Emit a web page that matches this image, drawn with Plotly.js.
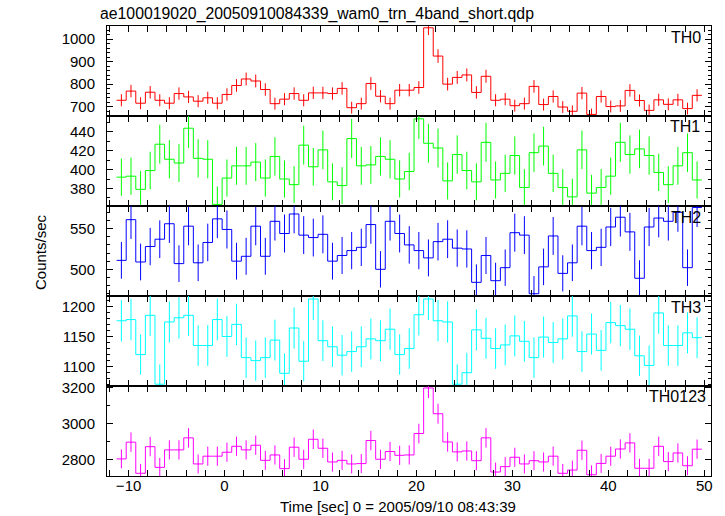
<!DOCTYPE html>
<html>
<head>
<meta charset="utf-8">
<script src="https://cdn.plot.ly/plotly-3.0.1.min.js"></script>
<style>html,body{margin:0;padding:0;background:#fff;}#chart{width:725px;height:516px;}</style>
</head>
<body>
<div id="chart"></div>
<script>
// Bin centres (1 s bins), time in sec relative to 2005/09/10 08:43:39
const timeCenters = [-10.75,-9.75,-8.75,-7.75,-6.75,-5.75,-4.75,-3.75,-2.75,-1.75,
  -0.75,0.25,1.25,2.25,3.25,4.25,5.25,6.25,7.25,8.25,
  9.25,10.25,11.25,12.25,13.25,14.25,15.25,16.25,17.25,18.25,
  19.25,20.25,21.25,22.25,23.25,24.25,25.25,26.25,27.25,28.25,
  29.25,30.25,31.25,32.25,33.25,34.25,35.25,36.25,37.25,38.25,
  39.25,40.25,41.25,42.25,43.25,44.25,45.25,46.25,47.25,48.25,49.25];
const binWidth = 1;

const th0 = [728,769,715,764,728,715,758,743,724,739,
  715,754,794,823,814,776,713,733,758,728,
  761,761,758,781,695,713,803,746,713,773,
  773,785,1051,925,800,830,841,763,835,728,
  733,704,713,790,709,745,698,679,760,665,
  745,700,703,772,727,683,730,710,730,691,750];
const th1 = [392,393,379,399,427,411,407,444,412,411,
  363,391,404,404,408,391,414,390,384,426,
  403,421,387,383,433,404,405,414,411,390,
  398,454,428,423,388,416,399,387,429,389,
  396,415,381,418,425,396,381,371,421,375,
  381,393,429,416,422,415,397,384,404,418,389];
const th2 = [511,561,509,528,537,556,507,553,508,533,
  562,549,510,516,553,516,559,544,568,542,
  539,543,510,517,523,527,555,500,559,544,
  530,523,514,534,537,526,525,484,517,486,
  502,545,542,470,503,541,495,508,553,523,
  527,552,564,546,489,552,563,559,570,502,576];
const th3 = [1176,1178,1120,1185,1071,1174,1181,1185,1135,1135,
  1178,1150,1170,1115,1110,1115,1144,1089,1164,1109,
  1212,1143,1133,1119,1125,1133,1146,1143,1162,1120,
  1130,1186,1212,1176,1174,1071,1090,1161,1147,1130,
  1136,1151,1142,1115,1149,1140,1146,1184,1125,1154,
  1127,1173,1168,1162,1118,1102,1189,1135,1135,1156,1148];
const th0123 = [2806,2899,2726,2874,2759,2856,2856,2923,2778,2821,
  2821,2843,2876,2856,2882,2798,2828,2752,2871,2804,
  2915,2865,2789,2798,2778,2780,2908,2804,2847,2826,
  2828,2947,3200,3057,2900,2845,2850,2796,2923,2733,
  2763,2815,2778,2796,2789,2821,2726,2744,2854,2718,
  2781,2821,2861,2895,2754,2754,2876,2791,2839,2768,2860];

const panelNames = ['TH0','TH1','TH2','TH3','TH0123'];
const panelData = [th0, th1, th2, th3, th0123];
const panelColors = ['#ff0000','#00ff00','#0000ff','#00ffff','#ff00ff'];
const yRanges = [[658,1059],[361.3,457],[467.2,577.8],[1068,1217],[2711,3211]];
const yDticks = [100,20,50,50,200];
const yMinor = [20,10,10,10,100];
const xTickVals = [-12,-10,-8,-6,-4,-2,0,2,4,6,8,10,12,14,16,18,20,22,24,26,28,30,32,34,36,38,40,42,44,46,48,50];
const xLabelVals = [-10,0,10,20,30,40,50];
const labelPos = [[703,37.5],[702,126.5],[703,217.5],[703,307.5],[708,396.7]];

const FONT = 'Liberation Sans, Arial, Helvetica, sans-serif';
const L = 107, R = 711, T = 26, B = 476;
const px2x = p => (p - L) / (R - L);
const px2y = p => (B - p) / (B - T);

const traces = [];
const layout = {
  width: 725, height: 516,
  margin: {l: L, r: 725 - R, t: T, b: 516 - B},
  paper_bgcolor: '#fff', plot_bgcolor: '#fff',
  showlegend: false,
  font: {family: FONT, size: 15, color: '#000'},
  annotations: []
};

panelData.forEach((vals, i) => {
  const n = i + 1;
  const xa = n === 1 ? 'x' : 'x' + n;
  const ya = n === 1 ? 'y' : 'y' + n;
  // step outline built from bin edges
  const edges = timeCenters.map(c => c - binWidth / 2);
  edges.push(timeCenters[timeCenters.length - 1] + binWidth / 2);
  const stepY = vals.slice();
  stepY.push(vals[vals.length - 1]);
  traces.push({
    x: edges, y: stepY, xaxis: xa, yaxis: ya,
    type: 'scatter', mode: 'lines',
    line: {shape: 'hv', color: panelColors[i], width: 1},
    hoverinfo: 'skip'
  });
  // Poisson error bars (sqrt of counts in 1 s bins)
  traces.push({
    x: timeCenters, y: vals, xaxis: xa, yaxis: ya,
    type: 'scatter', mode: 'markers',
    marker: {size: 1, color: panelColors[i]},
    error_y: {type: 'data', array: vals.map(v => Math.sqrt(v)), visible: true,
              thickness: 1, width: 0, color: panelColors[i]},
    hoverinfo: 'skip'
  });

  const top = 1 - i * 0.2, bot = 1 - (i + 1) * 0.2;
  const axX = {
    domain: [0, 1], anchor: ya, range: [-12.25, 50.7],
    tickmode: 'array', tickvals: xTickVals,
    ticktext: xTickVals.map(v => xLabelVals.includes(v) ? (v < 0 ? '\u2212' + (-v) : String(v)) : ''),
    showticklabels: i === 4,
    ticks: 'inside', ticklen: 6, tickwidth: 1, tickcolor: '#000',
    showline: true, linecolor: '#000', linewidth: 1, mirror: 'ticks',
    showgrid: false, zeroline: false,
    ticklabelstandoff: -4,
    tickfont: {family: FONT, size: 15, color: '#000'}
  };
  if (n > 1) axX.matches = 'x';
  layout[n === 1 ? 'xaxis' : 'xaxis' + n] = axX;
  layout[n === 1 ? 'yaxis' : 'yaxis' + n] = {
    domain: [bot, top], anchor: xa, range: yRanges[i],
    tickmode: 'linear', tick0: 0, dtick: yDticks[i],
    ticks: 'inside', ticklen: 6, tickwidth: 1, tickcolor: '#000',
    minor: {dtick: yMinor[i], tick0: 0, ticks: 'inside', ticklen: 3, tickwidth: 1, tickcolor: '#000', showgrid: false},
    showline: true, linecolor: '#000', linewidth: 1, mirror: 'ticks',
    showgrid: false, zeroline: false,
    ticklabelstandoff: 8,
    tickfont: {family: FONT, size: 15, color: '#000'}
  };
  layout.annotations.push({
    text: panelNames[i], xref: 'paper', yref: 'paper',
    x: px2x(labelPos[i][0]), y: px2y(labelPos[i][1]),
    xanchor: 'right', yanchor: 'middle', showarrow: false,
    font: {family: FONT, size: 16, color: '#000'}
  });
});

layout.annotations.push({
  text: 'ae100019020_20050910084339_wam0_trn_4band_short.qdp',
  xref: 'paper', yref: 'paper', x: px2x(98), y: px2y(14),
  xanchor: 'left', yanchor: 'middle', showarrow: false,
  font: {family: FONT, size: 15.8, color: '#000'}
});
layout.annotations.push({
  text: 'Counts/sec', xref: 'paper', yref: 'paper', x: px2x(40), y: px2y(252),
  xanchor: 'center', yanchor: 'middle', textangle: -90, showarrow: false,
  font: {family: FONT, size: 15, color: '#000'}
});
layout.annotations.push({
  text: 'Time [sec] 0 = 2005/09/10 08:43:39', xref: 'paper', yref: 'paper',
  x: px2x(398), y: px2y(506.5), xanchor: 'center', yanchor: 'middle', showarrow: false,
  font: {family: FONT, size: 15, color: '#000'}
});

Plotly.newPlot('chart', traces, layout, {staticPlot: true, displayModeBar: false});
</script>
</body>
</html>
